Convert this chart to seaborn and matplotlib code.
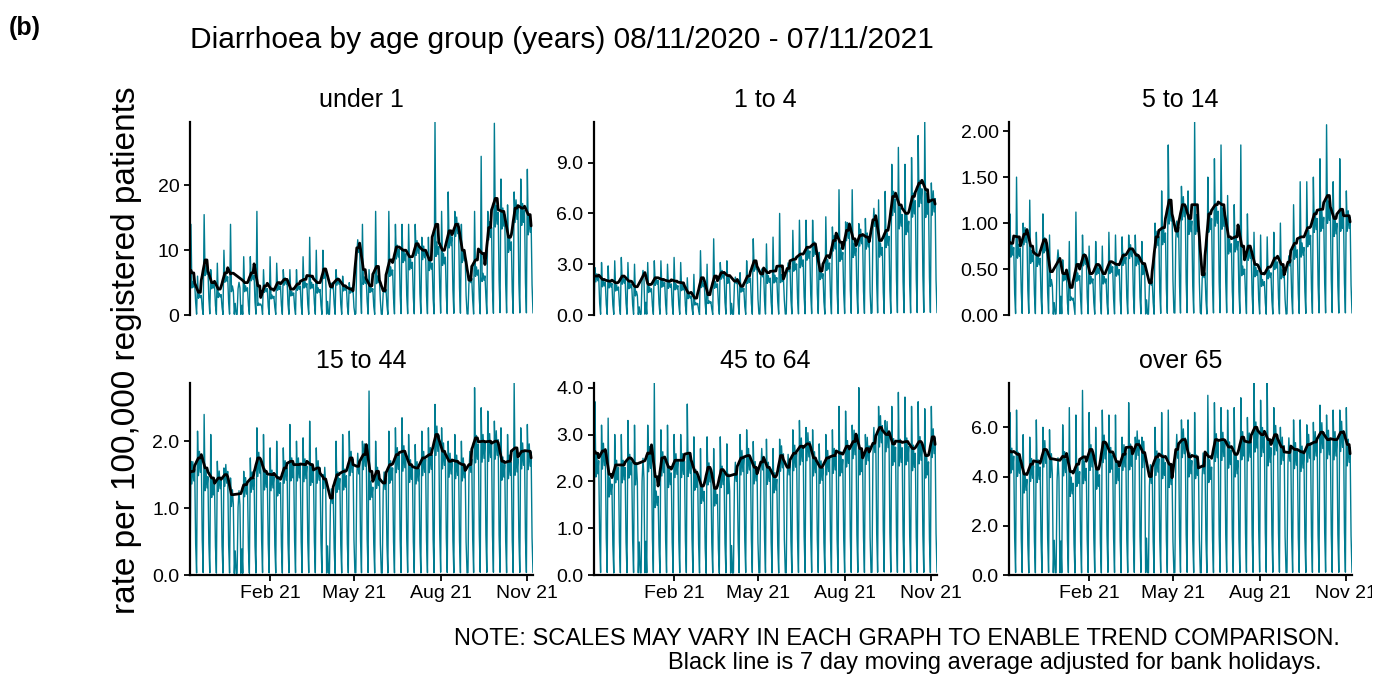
import matplotlib

matplotlib.use("Agg")
import matplotlib.dates as mdates
import matplotlib.pyplot as plt
import numpy as np
import pandas as pd
import seaborn as sns
from matplotlib.ticker import FormatStrFormatter, MultipleLocator
from matplotlib.transforms import Bbox, TransformedBbox

TEAL = "#007C91"

START, END = "2020-11-08", "2021-11-07"
FIRST_MONDAY = "2020-11-02"
BANK_HOLIDAYS = ["2020-12-25", "2020-12-28", "2021-01-01", "2021-04-02",
                 "2021-04-05", "2021-05-03", "2021-05-31", "2021-08-30"]

AGE_GROUPS = ["under 1", "1 to 4", "5 to 14", "15 to 44", "45 to 64", "over 65"]

# weekly values, one per week starting Monday 02/11/2020
# *_MEAN = level of the black line, *_PEAK = tallest (Monday) spike of the week
UNDER_1_MEAN = [7, 6.5, 3.5, 8.5, 5, 4, 6.5, 6, 5, 5,
                6.5, 4.5, 4.5, 4, 5, 5.5, 4, 4.8, 5.5, 6,
                5, 7, 5.5, 5.5, 4.5, 4, 11.5, 7, 4.5, 7.5,
                5, 8.5, 10.5, 10, 9, 11, 10, 8.5, 14, 10,
                13, 14, 10, 7.5, 8.5, 9.5, 13.5, 18, 16, 12,
                16.5, 16.5, 15.5]
UNDER_1_PEAK = [7, 14, 6, 15.5, 7, 8, 10, 14, 7, 9,
                9, 16, 7, 9, 8, 7, 7, 7, 9, 12,
                10, 10, 10, 7, 6, 5, 16, 14, 7, 16,
                10, 16, 14, 14, 14, 14, 12, 12, 29.8, 16,
                19, 16, 14, 16, 16, 24.5, 16, 29.6, 21, 17,
                19, 21, 22.5]

AGE_1_4_MEAN = [2.3, 2.3, 2.1, 2.0, 1.9, 2.3, 2.0, 1.6, 2.5, 1.8,
                2.2, 2.1, 2.0, 2.0, 1.9, 1.3, 1.0, 2.2, 1.2, 2.3,
                2.5, 2.3, 2.2, 1.7, 2.3, 3.2, 2.7, 2.5, 2.6, 2.9,
                3.0, 3.3, 3.6, 4.0, 4.2, 2.6, 3.5, 4.4, 4.3, 5.0,
                4.5, 4.7, 4.6, 6.2, 4.4, 5.0, 7.0, 6.5, 6.0, 7.0,
                7.8, 7.4, 6.8]
AGE_1_4_PEAK = [2.8, 2.8, 3.1, 2.9, 3.2, 3.4, 3.1, 3.0, 3.1, 3.1,
                3.2, 3.2, 3.0, 3.4, 3.1, 2.2, 2.4, 3.8, 3.0, 4.5,
                3.1, 3.2, 3.0, 2.5, 3.2, 4.5, 3.8, 4.2, 4.6, 6.0,
                4.0, 5.0, 5.6, 5.6, 5.6, 3.7, 5.8, 5.2, 7.4, 5.5,
                7.4, 5.4, 5.7, 8.5, 6.8, 7.3, 8.9, 9.9, 8.9, 9.3,
                10.6, 11.4, 7.8]

AGE_5_14_MEAN = [0.78, 0.78, 0.85, 0.88, 0.75, 0.65, 0.82, 0.45, 0.68, 0.45,
                 0.3, 0.55, 0.65, 0.45, 0.55, 0.45, 0.58, 0.55, 0.65, 0.72,
                 0.65, 0.55, 0.45, 0.85, 0.95, 1.25, 1.05, 1.2, 1.05, 1.2,
                 0.55, 1.1, 1.2, 1.2, 0.85, 0.85, 0.75, 0.75, 0.55, 0.45,
                 0.52, 0.62, 0.55, 0.68, 0.78, 0.85, 0.95, 1.1, 1.15, 1.3,
                 1.05, 1.15, 1.08]
AGE_5_14_PEAK = [0.85, 1.1, 1.5, 1.0, 1.25, 0.9, 1.1, 0.87, 0.87, 0.6,
                 0.8, 1.12, 0.87, 0.75, 0.8, 0.75, 0.9, 0.87, 0.85, 0.87,
                 0.87, 0.8, 0.85, 1.0, 1.35, 1.85, 1.6, 1.4, 1.35, 2.1,
                 1.0, 1.5, 1.7, 1.85, 1.3, 1.2, 1.85, 1.1, 0.9, 0.87,
                 0.85, 0.9, 1.0, 1.1, 1.2, 1.45, 1.45, 1.5, 1.7, 2.07,
                 1.45, 1.7, 1.35]

AGE_15_44_MEAN = [1.55, 1.55, 1.75, 1.6, 1.45, 1.45, 1.5, 1.2, 1.3, 1.35,
                  1.45, 1.75, 1.55, 1.5, 1.45, 1.6, 1.7, 1.65, 1.65, 1.65,
                  1.6, 1.45, 1.3, 1.5, 1.55, 1.75, 1.7, 1.8, 1.55, 1.55,
                  1.5, 1.65, 1.8, 1.85, 1.65, 1.6, 1.75, 1.8, 2.1, 1.85,
                  1.7, 1.7, 1.65, 1.8, 2.05, 2.0, 2.0, 2.0, 1.7, 1.7,
                  1.9, 1.85, 1.85]
AGE_15_44_PEAK = [1.6, 1.7, 2.15, 2.4, 2.1, 1.7, 1.6, 1.45, 2.0, 1.55,
                  1.75, 2.2, 2.1, 1.9, 2.0, 1.9, 2.25, 2.0, 2.05, 2.3,
                  1.9, 1.5, 1.9, 2.0, 2.1, 2.15, 2.0, 2.0, 2.75, 2.0,
                  2.0, 2.15, 2.2, 2.35, 2.1, 1.95, 2.15, 2.2, 2.55, 2.2,
                  2.0, 2.1, 2.0, 2.4, 2.8, 2.5, 2.45, 2.3, 2.2, 2.1,
                  2.87, 2.2, 2.25]

AGE_45_64_MEAN = [2.6, 2.6, 2.65, 2.15, 2.35, 2.35, 2.5, 2.35, 2.4, 2.6,
                  2.1, 2.5, 2.3, 2.45, 2.45, 2.6, 2.2, 1.9, 2.3, 1.85,
                  2.25, 2.1, 2.3, 2.5, 2.55, 2.3, 2.55, 2.3, 2.1, 2.55,
                  2.4, 2.6, 2.75, 2.8, 2.5, 2.3, 2.5, 2.55, 2.6, 2.75,
                  2.85, 2.7, 2.7, 2.95, 3.15, 3.0, 2.8, 2.85, 2.85, 2.7,
                  2.85, 2.55, 2.95]
AGE_45_64_PEAK = [3.1, 3.7, 3.2, 3.35, 3.0, 3.0, 3.3, 3.2, 3.1, 3.2,
                  4.1, 3.1, 3.2, 3.0, 3.0, 3.65, 2.95, 2.7, 2.95, 2.7,
                  2.95, 2.8, 2.9, 3.0, 3.1, 2.85, 3.1, 2.9, 2.7, 2.9,
                  2.8, 3.1, 3.3, 3.15, 3.1, 2.8, 3.0, 3.1, 3.6, 3.5,
                  3.2, 4.0, 3.0, 3.5, 3.6, 3.3, 3.6, 3.9, 3.8, 3.6,
                  3.7, 3.55, 3.6]

OVER_65_MEAN = [5.0, 5.0, 4.9, 4.1, 4.5, 4.6, 5.1, 4.7, 4.6, 4.8,
                4.2, 4.5, 4.8, 5.1, 4.3, 5.4, 5.0, 4.6, 4.9, 5.2,
                5.3, 5.0, 4.5, 4.8, 4.8, 4.5, 5.3, 5.5, 4.8, 4.8,
                4.7, 4.8, 5.5, 5.5, 5.2, 4.9, 5.6, 5.4, 6.0, 5.7,
                5.5, 5.7, 5.2, 5.2, 5.1, 5.0, 5.3, 5.4, 5.8, 5.5,
                5.5, 5.8, 5.3]
OVER_65_PEAK = [5.6, 6.6, 6.7, 5.7, 5.6, 6.3, 6.0, 5.9, 6.0, 6.1,
                6.8, 6.5, 7.5, 6.6, 6.0, 6.7, 6.5, 6.5, 5.6, 7.0,
                5.6, 5.6, 6.5, 6.0, 6.6, 6.7, 6.1, 6.3, 6.3, 6.6,
                5.8, 7.3, 7.0, 6.8, 6.7, 6.8, 7.2, 6.4, 7.8, 7.1,
                7.8, 6.8, 6.0, 6.1, 6.3, 6.3, 6.1, 6.2, 6.9, 6.5,
                6.7, 6.7, 6.8]

# shape of a working week relative to the weekly level (Tue..Fri), weekend lows
MIDWEEK = [0.9, 1.12, 0.93, 1.05]
SATURDAY = 0.3
SUNDAY = 0.02

Y_STEP = [10, 3, 0.5, 1, 1, 2]
Y_FMT = ["%d", "%.1f", "%.2f", "%.1f", "%.1f", "%.1f"]

WEEKLY = [
    (UNDER_1_MEAN, UNDER_1_PEAK),
    (AGE_1_4_MEAN, AGE_1_4_PEAK),
    (AGE_5_14_MEAN, AGE_5_14_PEAK),
    (AGE_15_44_MEAN, AGE_15_44_PEAK),
    (AGE_45_64_MEAN, AGE_45_64_PEAK),
    (OVER_65_MEAN, OVER_65_PEAK),
]

dates = pd.date_range(START, END, freq="D")
week = ((dates - pd.Timestamp(FIRST_MONDAY)).days // 7).to_numpy()
dow = dates.dayofweek.to_numpy()
holiday = dates.isin(pd.to_datetime(BANK_HOLIDAYS))
working = (dow < 5) & ~holiday


def daily_rates(means, peaks):
    m = np.asarray(means, dtype=float)[week]
    p = np.asarray(peaks, dtype=float)[week]
    rest = np.clip((5 * m - p) / 4, 0, None)
    mid = rest * np.take(MIDWEEK, np.clip(dow - 1, 0, 3))
    rate = np.select([dow == 0, dow < 5, dow == 5], [p, mid, m * SATURDAY],
                     default=m * SUNDAY)
    rate[holiday] = m[holiday] * SUNDAY
    return rate


frames = []
for group, (means, peaks) in zip(AGE_GROUPS, WEEKLY):
    rate = daily_rates(means, peaks)
    # moving average over working days only (weekends / bank holidays left out)
    avg = (pd.Series(np.where(working, rate, np.nan))
           .rolling(7, center=True, min_periods=4).mean())
    frames.append(pd.DataFrame({"date": dates, "group": group,
                                "rate": rate, "avg": avg.to_numpy()}))
df = pd.concat(frames, ignore_index=True)

sns.set_theme(style="ticks")
plt.rcParams["font.family"] = ["Liberation Sans", "DejaVu Sans"]

fig = plt.figure(figsize=(13.83, 6.77), dpi=100)

W, H = 1383, 677
lefts = [190, 594, 1009]
tops = [122, 383]
bottoms = [315, 575]
width = 343
# the reference cuts the last tick label at the right edge of the plot
label_clip = TransformedBbox(Bbox([[0, 0], [1372 / W, 1]]), fig.transFigure)

for i, group in enumerate(AGE_GROUPS):
    row, col = divmod(i, 3)
    ax = fig.add_axes([lefts[col] / W, 1 - bottoms[row] / H,
                       width / W, (bottoms[row] - tops[row]) / H])
    sub = df[df["group"] == group]
    sns.lineplot(data=sub, x="date", y="rate", ax=ax, color=TEAL,
                 linewidth=1.0, estimator=None)
    sns.lineplot(data=sub.dropna(subset=["avg"]), x="date", y="avg", ax=ax,
                 color="black", linewidth=2.0, estimator=None)

    ax.set_xlim(dates[0], dates[-1])
    ax.set_ylim(0, sub["rate"].max())
    ax.yaxis.set_major_locator(MultipleLocator(Y_STEP[i]))
    ax.yaxis.set_major_formatter(FormatStrFormatter(Y_FMT[i]))
    ax.xaxis.set_major_locator(mdates.MonthLocator(bymonth=[2, 5, 8, 11]))
    ax.xaxis.set_major_formatter(mdates.DateFormatter("%b %y"))
    ax.set_xlabel("")
    ax.set_ylabel("")
    ax.set_title(group, fontsize=18, pad=11, color="black")

    for side in ["top", "right"]:
        ax.spines[side].set_visible(False)
    for side in ["left", "bottom"]:
        ax.spines[side].set_linewidth(1.6)
        ax.spines[side].set_color("black")
    ax.tick_params(axis="both", labelsize=14, length=4.5, width=1.3,
                   color="black", labelcolor="black", pad=3)
    if row == 0:
        ax.spines["bottom"].set_visible(False)
        ax.tick_params(axis="x", bottom=False, labelbottom=False)
    elif col == 2:
        for lbl in ax.get_xticklabels():
            lbl.set_clip_on(True)
            lbl.set_clip_box(label_clip)

fig.text(0.006, 1 - 35 / H, "(b)", fontsize=18, fontweight="bold",
         color="black")
fig.text(190 / W, 1 - 48 / H,
         "Diarrhoea by age group (years) 08/11/2020 - 07/11/2021",
         fontsize=21.5, va="baseline", color="black")
fig.text(127 / W, 1 - 350 / H, "rate per 100,000 registered patients",
         fontsize=24, rotation=90, ha="center", va="center", color="black")
fig.text(1340 / W, 1 - 645 / H,
         "NOTE: SCALES MAY VARY IN EACH GRAPH TO ENABLE TREND COMPARISON.",
         fontsize=17, ha="right", va="baseline", color="black")
fig.text(1322 / W, 1 - 669 / H,
         "Black line is 7 day moving average adjusted for bank holidays.",
         fontsize=17, ha="right", va="baseline", color="black")

fig.savefig("out.png", dpi=100, facecolor="white")
